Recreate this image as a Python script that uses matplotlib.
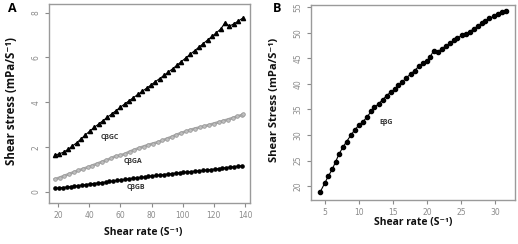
import matplotlib
matplotlib.use("Agg")
import matplotlib.pyplot as plt

# ---------------- Panel A data ----------------
gc_x = [18, 20.8, 23.6, 26.4, 29.2, 32, 34.8, 37.6, 40.4, 43.2, 46, 48.8, 51.6, 54.4,
        57.2, 60, 62.8, 65.6, 68.4, 71.2, 74, 76.8, 79.6, 82.4, 85.2, 88, 90.8, 93.6,
        96.4, 99.2, 102, 104.8, 107.6, 110.4, 113.2, 116, 118.8, 121.6, 124.4, 127.2,
        130, 132.8, 135.6, 138.4]
gc_y = [1.65, 1.70, 1.78, 1.90, 2.05, 2.20, 2.37, 2.55, 2.72, 2.88, 3.03, 3.18, 3.33, 3.48,
        3.63, 3.78, 3.93, 4.07, 4.21, 4.35, 4.49, 4.63, 4.77, 4.92, 5.06, 5.20, 5.35, 5.50,
        5.66, 5.82, 5.98, 6.14, 6.30, 6.46, 6.62, 6.78, 6.94, 7.10, 7.27, 7.55,
        7.40, 7.50, 7.62, 7.75]

ga_x = [18, 21, 24, 27, 30, 33, 36, 39, 42, 45, 48, 51, 54, 57, 60, 63, 66, 69, 72, 75,
        78, 81, 84, 87, 90, 93, 96, 99, 102, 105, 108, 111, 114, 117, 120, 123, 126, 129,
        132, 135, 138, 139]
ga_y = [0.57, 0.64, 0.72, 0.80, 0.88, 0.96, 1.03, 1.10, 1.18, 1.26, 1.34, 1.42, 1.50, 1.60,
        1.63, 1.70, 1.80, 1.88, 1.96, 2.03, 2.10, 2.16, 2.22, 2.30, 2.38, 2.46, 2.55, 2.63,
        2.70, 2.77, 2.83, 2.88, 2.94, 2.99, 3.05, 3.11, 3.17, 3.23, 3.30, 3.37, 3.43, 3.46]

gb_x = [18, 20.5, 23, 25.5, 28, 30.5, 33, 35.5, 38, 40.5, 43, 45.5, 48, 50.5, 53, 55.5,
        58, 60.5, 63, 65.5, 68, 70.5, 73, 75.5, 78, 80.5, 83, 85.5, 88, 90.5, 93, 95.5,
        98, 100.5, 103, 105.5, 108, 110.5, 113, 115.5, 118, 120.5, 123, 125.5, 128, 130.5,
        133, 135.5, 138]
gb_y = [0.16, 0.18, 0.20, 0.22, 0.24, 0.26, 0.28, 0.31, 0.33, 0.36, 0.38, 0.40, 0.42, 0.44,
        0.47, 0.49, 0.52, 0.54, 0.56, 0.59, 0.61, 0.63, 0.65, 0.67, 0.70, 0.72, 0.74, 0.76,
        0.78, 0.80, 0.82, 0.84, 0.86, 0.88, 0.89, 0.91, 0.93, 0.95, 0.96, 0.98, 1.00, 1.02,
        1.04, 1.06, 1.09, 1.11, 1.13, 1.15, 1.17]

a_xticks = [20, 40, 60, 80, 100, 120, 140]
a_yticks = [0, 2, 4, 6, 8]

# ---------------- Panel B data ----------------
eb_x = [4.3, 5.0, 5.5, 6.1, 6.6, 7.1, 7.7, 8.2, 8.8, 9.4, 10.0, 10.6, 11.2, 11.8, 12.3,
        12.9, 13.5, 14.1, 14.7, 15.3, 15.8, 16.4, 17.0, 17.6, 18.2, 18.8, 19.4, 20.0, 20.5,
        21.0, 21.6, 22.2, 22.8, 23.4, 24.0, 24.5, 25.1, 25.7, 26.3, 26.9, 27.5, 28.1, 28.6,
        29.2, 29.8, 30.4, 31.0, 31.6]
eb_y = [18.8, 20.6, 21.9, 23.3, 24.8, 26.3, 27.7, 28.7, 29.9, 31.0, 31.9, 32.6, 33.5, 34.6,
        35.4, 36.1, 36.9, 37.7, 38.4, 39.0, 39.7, 40.4, 41.2, 41.9, 42.6, 43.4, 44.0, 44.5,
        45.3, 46.5, 46.2, 46.9, 47.4, 47.9, 48.5, 48.9, 49.5, 49.8, 50.2, 50.8, 51.3, 51.9,
        52.3, 52.8, 53.2, 53.6, 54.0, 54.3]

b_xticks = [5, 10, 15, 20, 25, 30]
b_yticks = [20, 25, 30, 35, 40, 45, 50, 55]

FONT = ["Open Sans", "DejaVu Sans"]
SPINE = "#9a9a9a"
TICKC = "#8a8a8a"

fig = plt.figure(figsize=(5.18, 2.44), dpi=100)

def style(ax):
    for s in ax.spines.values():
        s.set_color(SPINE)
        s.set_linewidth(1.0)
    ax.tick_params(axis="both", direction="out", length=3, width=0.8, color=TICKC,
                   labelcolor=TICKC, labelsize=5.5, pad=3)
    for lab in ax.get_yticklabels():
        lab.set_rotation(90)
        lab.set_va("center")

# Panel A
axA = fig.add_axes([0.0946, 0.168, 0.388, 0.816])
axA.plot(gc_x, gc_y, color="black", lw=0.8, marker="^", ms=3.0, mec="black", mfc="black")
axA.plot(ga_x, ga_y, color="#a8a8a8", lw=2.0, marker="o", ms=2.6, mec="#9a9a9a",
         mfc="#c0c0c0", mew=0.6)
axA.plot(gb_x, gb_y, color="black", lw=0.9, marker="o", ms=2.3, mec="black", mfc="black")
axA.set_xlim(14.2, 143.2)
axA.set_ylim(-0.49, 8.39)
axA.set_xticks(a_xticks)
axA.set_yticks(a_yticks)
style(axA)
axA.text(53.4, 2.45, "CβGC", fontsize=5, fontweight="bold", color="#333333", family=FONT,
         ha="center", va="center")
axA.text(68, 1.34, "CβGA", fontsize=5, fontweight="bold", color="#333333", family=FONT,
         ha="center", va="center")
axA.text(70, 0.18, "CβGB", fontsize=5, fontweight="bold", color="#333333", family=FONT,
         ha="center", va="center")
fig.text(143 / 518, 1 - 232 / 244, "Shear rate (S⁻¹)", fontsize=7.5, fontweight="bold",
         family=FONT, ha="center", va="center", color="#111111")
fig.text(12 / 518, 1 - 101 / 244, "Shear stress (mPa/S⁻¹)", fontsize=8.3, fontweight="bold",
         family=FONT, ha="center", va="center", rotation=90, color="#111111")
fig.text(12 / 518, 1 - 9 / 244, "A", fontsize=9, fontweight="bold", family=FONT,
         ha="center", va="center")

# Panel B
axB = fig.add_axes([0.600, 0.180, 0.394, 0.799])
axB.plot(eb_x, eb_y, color="black", lw=0.8, marker="o", ms=3.0, mec="black", mfc="black")
axB.set_xlim(2.94, 32.94)
axB.set_ylim(17.26, 55.4)
axB.set_xticks(b_xticks)
axB.set_yticks(b_yticks)
style(axB)
axB.text(14.0, 32.5, "EβG", fontsize=5, fontweight="bold", color="#333333", family=FONT,
         ha="center", va="center")
fig.text(413 / 518, 1 - 223 / 244, "Shear rate (S⁻¹)", fontsize=7.5, fontweight="bold",
         family=FONT, ha="center", va="center", color="#111111")
fig.text(274 / 518, 1 - 100 / 244, "Shear Stress (mPa/S⁻¹)", fontsize=8.0, fontweight="bold",
         family=FONT, ha="center", va="center", rotation=90, color="#111111")
fig.text(277 / 518, 1 - 9 / 244, "B", fontsize=9, fontweight="bold", family=FONT,
         ha="center", va="center")

fig.savefig("out.png", dpi=100)
